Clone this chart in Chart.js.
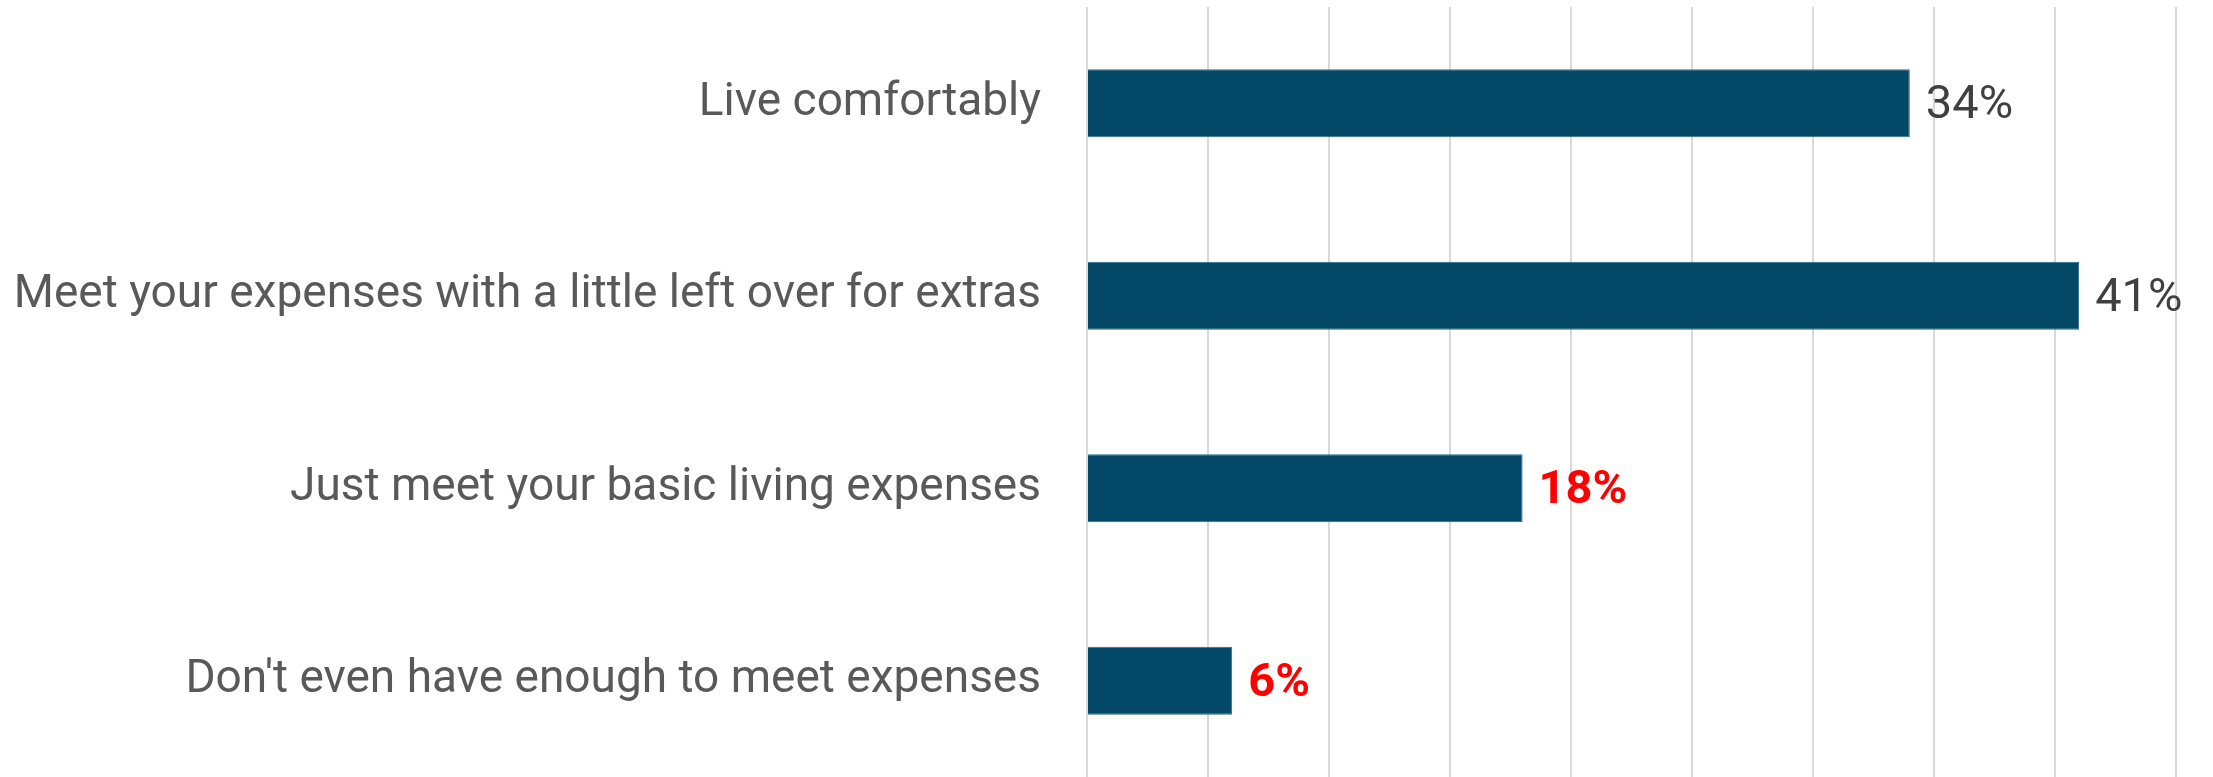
<!DOCTYPE html>
<html>
<head>
<meta charset="utf-8">
<script src="https://cdn.jsdelivr.net/npm/chart.js@4"></script>
<style>
  html, body { margin: 0; padding: 0; background: #fff; }
  #wrap { width: 2213px; height: 777px; }
</style>
</head>
<body>
<div id="wrap"><canvas id="chart" width="2213" height="777"></canvas></div>
<script>
// categories and values
const categories = [
  'Live comfortably',
  'Meet your expenses with a little left over for extras',
  'Just meet your basic living expenses',
  "Don't even have enough to meet expenses"
];
const values = [34, 41, 18, 6];
const xTicks = [0, 5, 10, 15, 20, 25, 30, 35, 40, 45];

// highlighted labels are red and bold
const highlighted = [false, false, true, true];

const FONT = 'Roboto, "Open Sans", sans-serif';

// simple value labels at the end of each bar
const barLabels = {
  id: 'barLabels',
  afterDatasetsDraw(chart) {
    const ctx = chart.ctx;
    const meta = chart.getDatasetMeta(0);
    ctx.save();
    ctx.textBaseline = 'middle';
    ctx.textAlign = 'left';
    meta.data.forEach((bar, i) => {
      const hot = highlighted[i];
      ctx.font = (hot ? 'bold ' : '') + '47px ' + FONT;
      ctx.fillStyle = hot ? '#ff0000' : '#404040';
      ctx.fillText(values[i] + '%', bar.x + 16, bar.y + 3);
    });
    ctx.restore();
  }
};

new Chart(document.getElementById('chart'), {
  type: 'bar',
  data: {
    labels: categories,
    datasets: [{
      data: values,
      backgroundColor: '#034866',
      borderColor: '#2a6a88',
      borderWidth: 1,
      categoryPercentage: 1,
      barPercentage: 0.352
    }]
  },
  options: {
    indexAxis: 'y',
    responsive: false,
    animation: false,
    layout: { padding: { left: 0, right: 37, top: 7, bottom: 0 } },
    plugins: {
      legend: { display: false },
      tooltip: { enabled: false }
    },
    scales: {
      x: {
        min: 0,
        max: 45,
        afterBuildTicks(axis) {
          axis.ticks = xTicks.map(v => ({ value: v }));
        },
        afterFit(axis) { axis.height = 0; },
        ticks: { display: false },
        border: { display: false },
        grid: { color: '#d9d9d9', lineWidth: 2, drawTicks: false }
      },
      y: {
        afterFit(axis) {
          axis.width = 1087;
          axis.paddingTop = 0;
          axis.paddingBottom = 0;
        },
        ticks: {
          color: '#595959',
          padding: 38,
          font: { family: FONT, size: 46 }
        },
        border: { display: false },
        grid: { display: false }
      }
    }
  },
  plugins: [barLabels]
});
</script>
</body>
</html>
